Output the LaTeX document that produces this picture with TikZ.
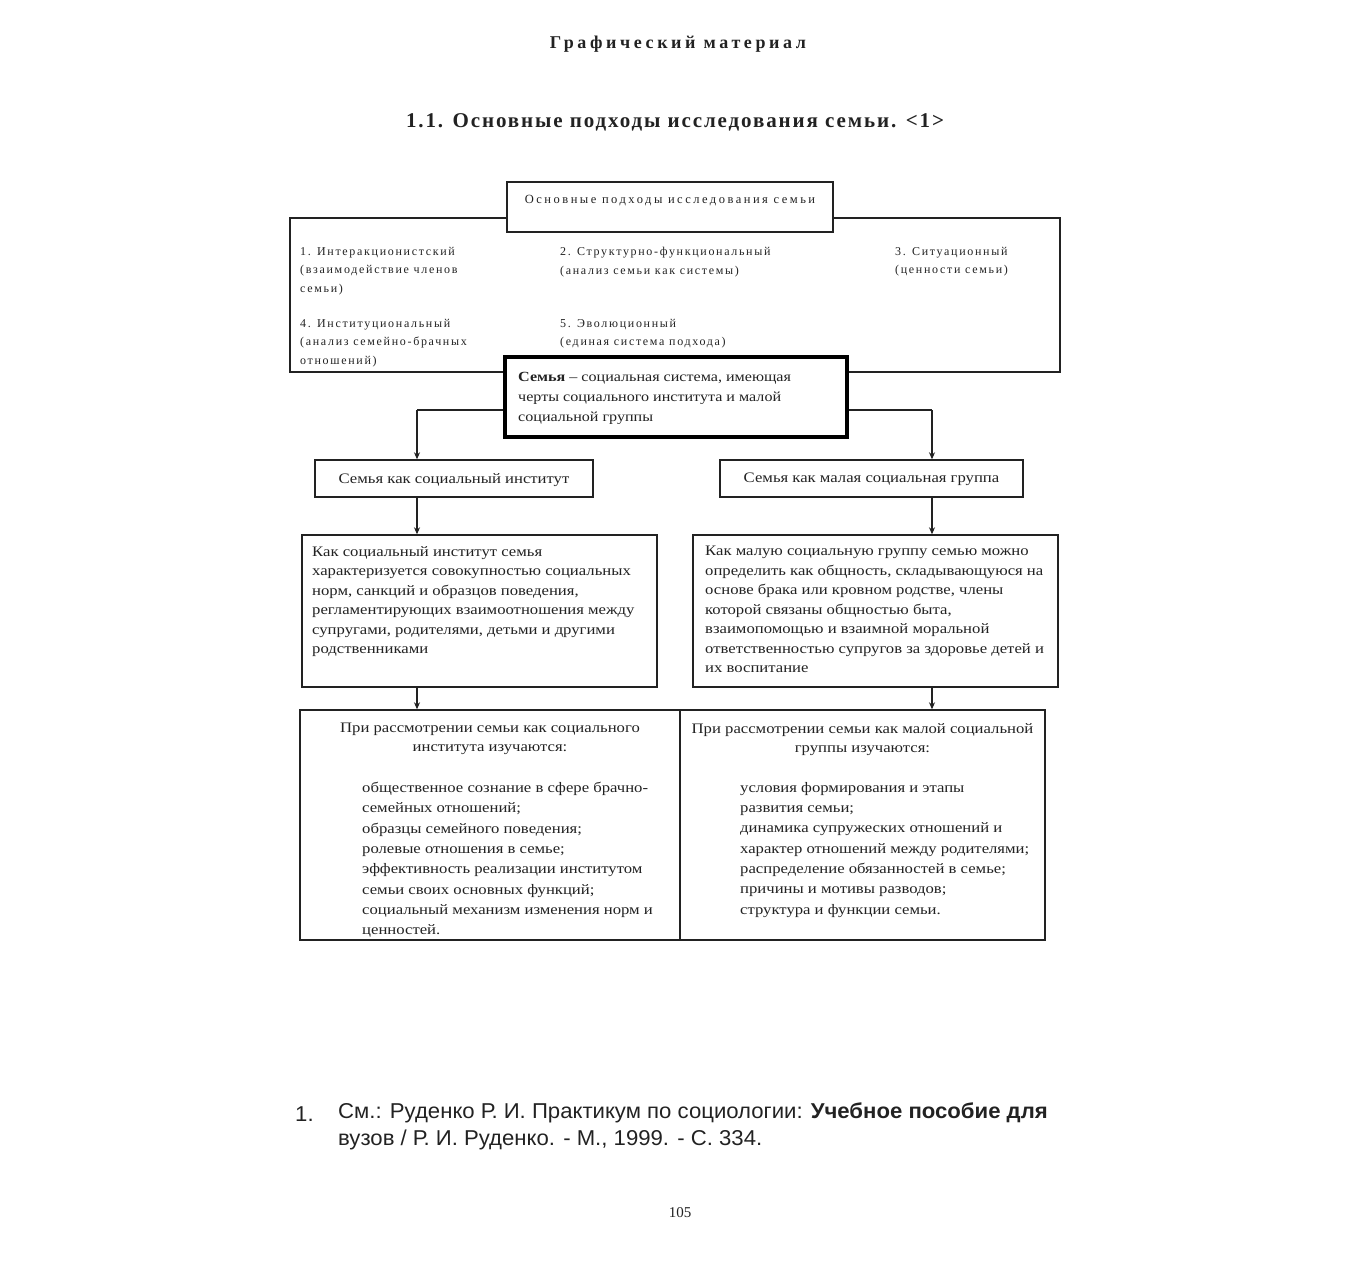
\documentclass[tikz,border=0pt]{standalone}
\usepackage{fontspec}
\setmainfont{Liberation Serif}
\newfontfamily\wideserif[FakeStretch=1.15]{Liberation Serif}
\newfontfamily\footsans[FakeStretch=1.03]{Liberation Sans}
\usetikzlibrary{arrows.meta,calc}
\definecolor{ink}{HTML}{222222}
\tikzset{
  frame/.style={draw=ink, line width=1.4pt, fill=white, inner sep=0pt},
  heavyframe/.style={draw=black, line width=3.2pt, fill=white, inner sep=0pt},
  conn/.style={draw=ink, line width=1.4pt},
  arr/.style={conn, -{Stealth[length=7pt,width=6pt]}},
  txt/.style={anchor=north west, inner sep=0pt, align=left, text=ink, font=\wideserif\fontsize{14.5}{19.5}\selectfont},
  listtxt/.style={txt, font=\wideserif\fontsize{14.5}{20.3}\selectfont},
  ctxt/.style={anchor=north, inner sep=0pt, align=center, text=ink, font=\wideserif\fontsize{14.5}{19.2}\selectfont},
  small/.style={anchor=north west, inner sep=0pt, align=left, text=ink, font=\fontsize{12}{18.5}\selectfont\addfontfeature{LetterSpace=14}},
}
\begin{document}
\begin{tikzpicture}[x=1pt,y=-1pt]
\useasboundingbox (0,0) rectangle (1350,1267);
% titles
\node[anchor=base, inner sep=0pt, text=ink, font=\fontsize{18}{20}\selectfont\bfseries\addfontfeature{LetterSpace=20}] (t1) at (678,48) {Графический материал};
\node[anchor=base, inner sep=0pt, text=ink, font=\fontsize{21}{24}\selectfont\bfseries\addfontfeature{LetterSpace=9}] (t2) at (675,127) {1.1. Основные подходы исследования семьи. <1>};
% approaches
\node[frame, fill=none, minimum width=770pt, minimum height=154pt] (big) at (675,295) {};
\node[frame, minimum width=326pt, minimum height=50pt] (top) at (670,207) {};
\node[small, anchor=north, font=\fontsize{12.5}{18.5}\selectfont\addfontfeature{LetterSpace=20}] (toptext) at (670,195) {Основные подходы исследования семьи};
\node[small] (a1) at (300,247) {1. Интеракционистский\\(взаимодействие членов\\семьи)};
\node[small] (a2) at (560,247) {2. Структурно-функциональный\\(анализ семьи как системы)};
\node[small] (a3) at (895,247) {3. Ситуационный\\(ценности семьи)};
\node[small] (a4) at (300,319) {4. Институциональный\\(анализ семейно-брачных\\отношений)};
\node[small] (a5) at (560,319) {5. Эволюционный\\(единая система подхода)};
% family
\node[heavyframe, minimum width=342pt, minimum height=80pt] (semya) at (676,397) {};
\node[txt, font=\wideserif\fontsize{14}{19.8}\selectfont] (semyatext) at (518,372) {\textbf{Семья} – социальная система, имеющая\\черты социального института и малой\\социальной группы};
% middle
\node[frame, minimum width=278pt, minimum height=37pt] (inst) at (454,478.5) {};
\node[ctxt] (insttext) at (454,473) {Семья как социальный институт};
\node[frame, minimum width=303pt, minimum height=37pt] (grp) at (871.5,478.5) {};
\node[ctxt] (grptext) at (871.5,473) {Семья как малая социальная группа};
% descriptions
\node[frame, minimum width=355pt, minimum height=152pt] (d1) at (479.5,611) {};
\node[txt] (d1text) at (312,546) {Как социальный институт семья\\характеризуется совокупностью социальных\\норм, санкций и образцов поведения,\\регламентирующих взаимоотношения между\\супругами, родителями, детьми и другими\\родственниками};
\node[frame, minimum width=365pt, minimum height=152pt] (d2) at (875.5,611) {};
\node[txt] (d2text) at (705,546) {Как малую социальную группу семью можно\\определить как общность, складывающуюся на\\основе брака или кровном родстве, члены\\которой связаны общностью быта,\\взаимопомощью и взаимной моральной\\ответственностью супругов за здоровье детей и\\их воспитание};
% study
\node[frame, minimum width=380pt, minimum height=230pt] (s1) at (490,825) {};
\node[ctxt] (s1head) at (490,723) {При рассмотрении семьи как социального\\института изучаются:};
\node[listtxt] (s1text) at (362,782) {общественное сознание в сфере брачно-\\семейных отношений;\\образцы семейного поведения;\\ролевые отношения в семье;\\эффективность реализации институтом\\семьи своих основных функций;\\социальный механизм изменения норм и\\ценностей.};
\node[frame, minimum width=365pt, minimum height=230pt] (s2) at (862.5,825) {};
\node[ctxt] (s2head) at (862.5,723) {При рассмотрении семьи как малой социальной\\группы изучаются:};
\node[listtxt] (s2text) at (740,782) {условия формирования и этапы\\развития семьи;\\динамика супружеских отношений и\\характер отношений между родителями;\\распределение обязанностей в семье;\\причины и мотивы разводов;\\структура и функции семьи.};
% connectors
\coordinate (l1) at (417,410);
\coordinate (r1) at (932,410);
\draw[conn] (semya.west |- l1) -- (l1);
\draw[arr] (l1) -- (l1 |- inst.north);
\draw[conn] (semya.east |- r1) -- (r1);
\draw[arr] (r1) -- (r1 |- grp.north);
\draw[arr] (l1 |- inst.south) -- (l1 |- d1.north);
\draw[arr] (r1 |- grp.south) -- (r1 |- d2.north);
\draw[arr] (l1 |- d1.south) -- (l1 |- s1.north);
\draw[arr] (r1 |- d2.south) -- (r1 |- s2.north);
% footnote
\node[anchor=base west, inner sep=0pt, font=\footsans\fontsize{21.5}{27}\selectfont, text=ink] (fnnum) at (295,1121) {1.};
\node[anchor=north west, inner sep=0pt, align=left, font=\footsans\fontsize{21.5}{27}\selectfont, text=ink] (fn) at (338,1103) {См.: Руденко Р. И. Практикум по социологии: \textbf{Учебное пособие для}\\вузов / Р. И. Руденко. - М., 1999. - С. 334.};
\node[anchor=base, inner sep=0pt, font=\fontsize{15}{18}\selectfont, text=ink] (page) at (680,1217) {105};
\end{tikzpicture}
\end{document}
